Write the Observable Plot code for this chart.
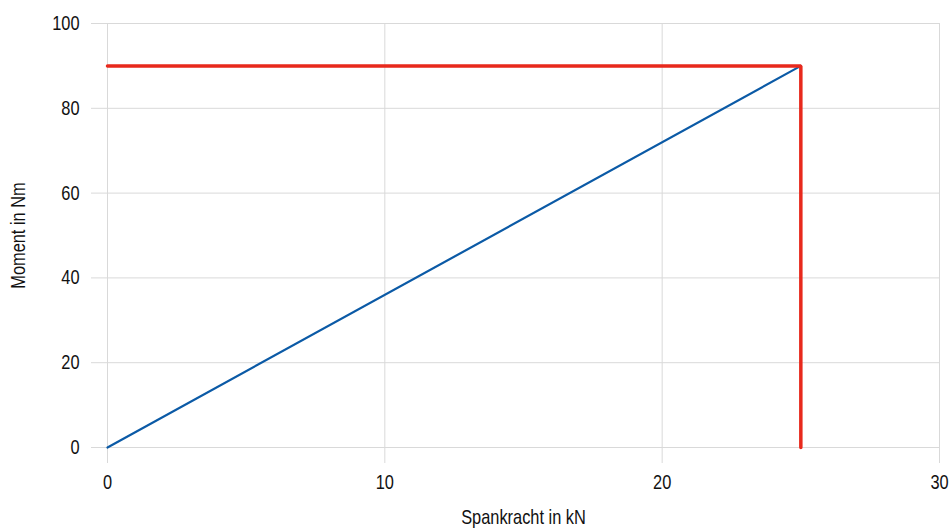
<!DOCTYPE html>
<html><head><meta charset="utf-8">
<script src="https://cdn.jsdelivr.net/npm/d3@7"></script>
<script src="https://cdn.jsdelivr.net/npm/@observablehq/plot@0.6"></script>
<style>body{margin:0;background:#fff}</style>
</head><body><div id="chart"></div>
<script>
const momentX = [0, 25];
const momentY = [0, 90];
const limitX = [0, 25, 25];
const limitY = [90, 90, 0];
const xTicks = [0, 10, 20, 30];
const yTicks = [0, 20, 40, 60, 80, 100];

const moment = momentX.map((x, i) => ({x, y: momentY[i]}));
const limit = limitX.map((x, i) => ({x, y: limitY[i]}));
const font = "'Liberation Sans Narrow', 'Arial Narrow', 'Liberation Sans', Arial, sans-serif";

const chart = Plot.plot({
  width: 950, height: 529,
  marginLeft: 107, marginRight: 11, marginTop: 23, marginBottom: 82,
  style: {fontFamily: font, fontSize: "20px", color: "#111", background: "#fff"},
  x: {domain: [0, 30]},
  y: {domain: [0, 100]},
  marks: [
    Plot.gridX(xTicks, {stroke: "#d9d9d9", strokeOpacity: 1}),
    Plot.gridY(yTicks, {stroke: "#d9d9d9", strokeOpacity: 1}),
    Plot.axisX(xTicks, {tickSize: 16, stroke: "#d9d9d9", tickPadding: 11, fill: "#111",
      label: "Spankracht in kN", labelAnchor: "center", labelArrow: "none", labelOffset: 76}),
    Plot.axisY(yTicks, {tickSize: 16, stroke: "#d9d9d9", tickPadding: 12, fill: "#111",
      label: "Moment in Nm", labelAnchor: "center", labelArrow: "none", labelOffset: 97}),
    Plot.line(moment, {x: "x", y: "y", stroke: "#0b5aa6", strokeWidth: 2.2}),
    Plot.line(limit, {x: "x", y: "y", stroke: "#e8291c", strokeWidth: 3.5, strokeLinejoin: "miter"})
  ]
});
document.getElementById("chart").append(chart);

// condense text horizontally (narrow typeface look), about each text's anchor
const narrow = 0.82;
chart.querySelectorAll("text").forEach(t => {
  const bb = t.getBBox();
  const anchor = getComputedStyle(t).textAnchor;
  const ax = anchor === "middle" ? bb.x + bb.width / 2 : anchor === "end" ? bb.x + bb.width : bb.x;
  const prev = t.getAttribute("transform") || "";
  t.setAttribute("transform", `${prev} translate(${ax},0) scale(${narrow},1) translate(${-ax},0)`.trim());
});
</script></body></html>
